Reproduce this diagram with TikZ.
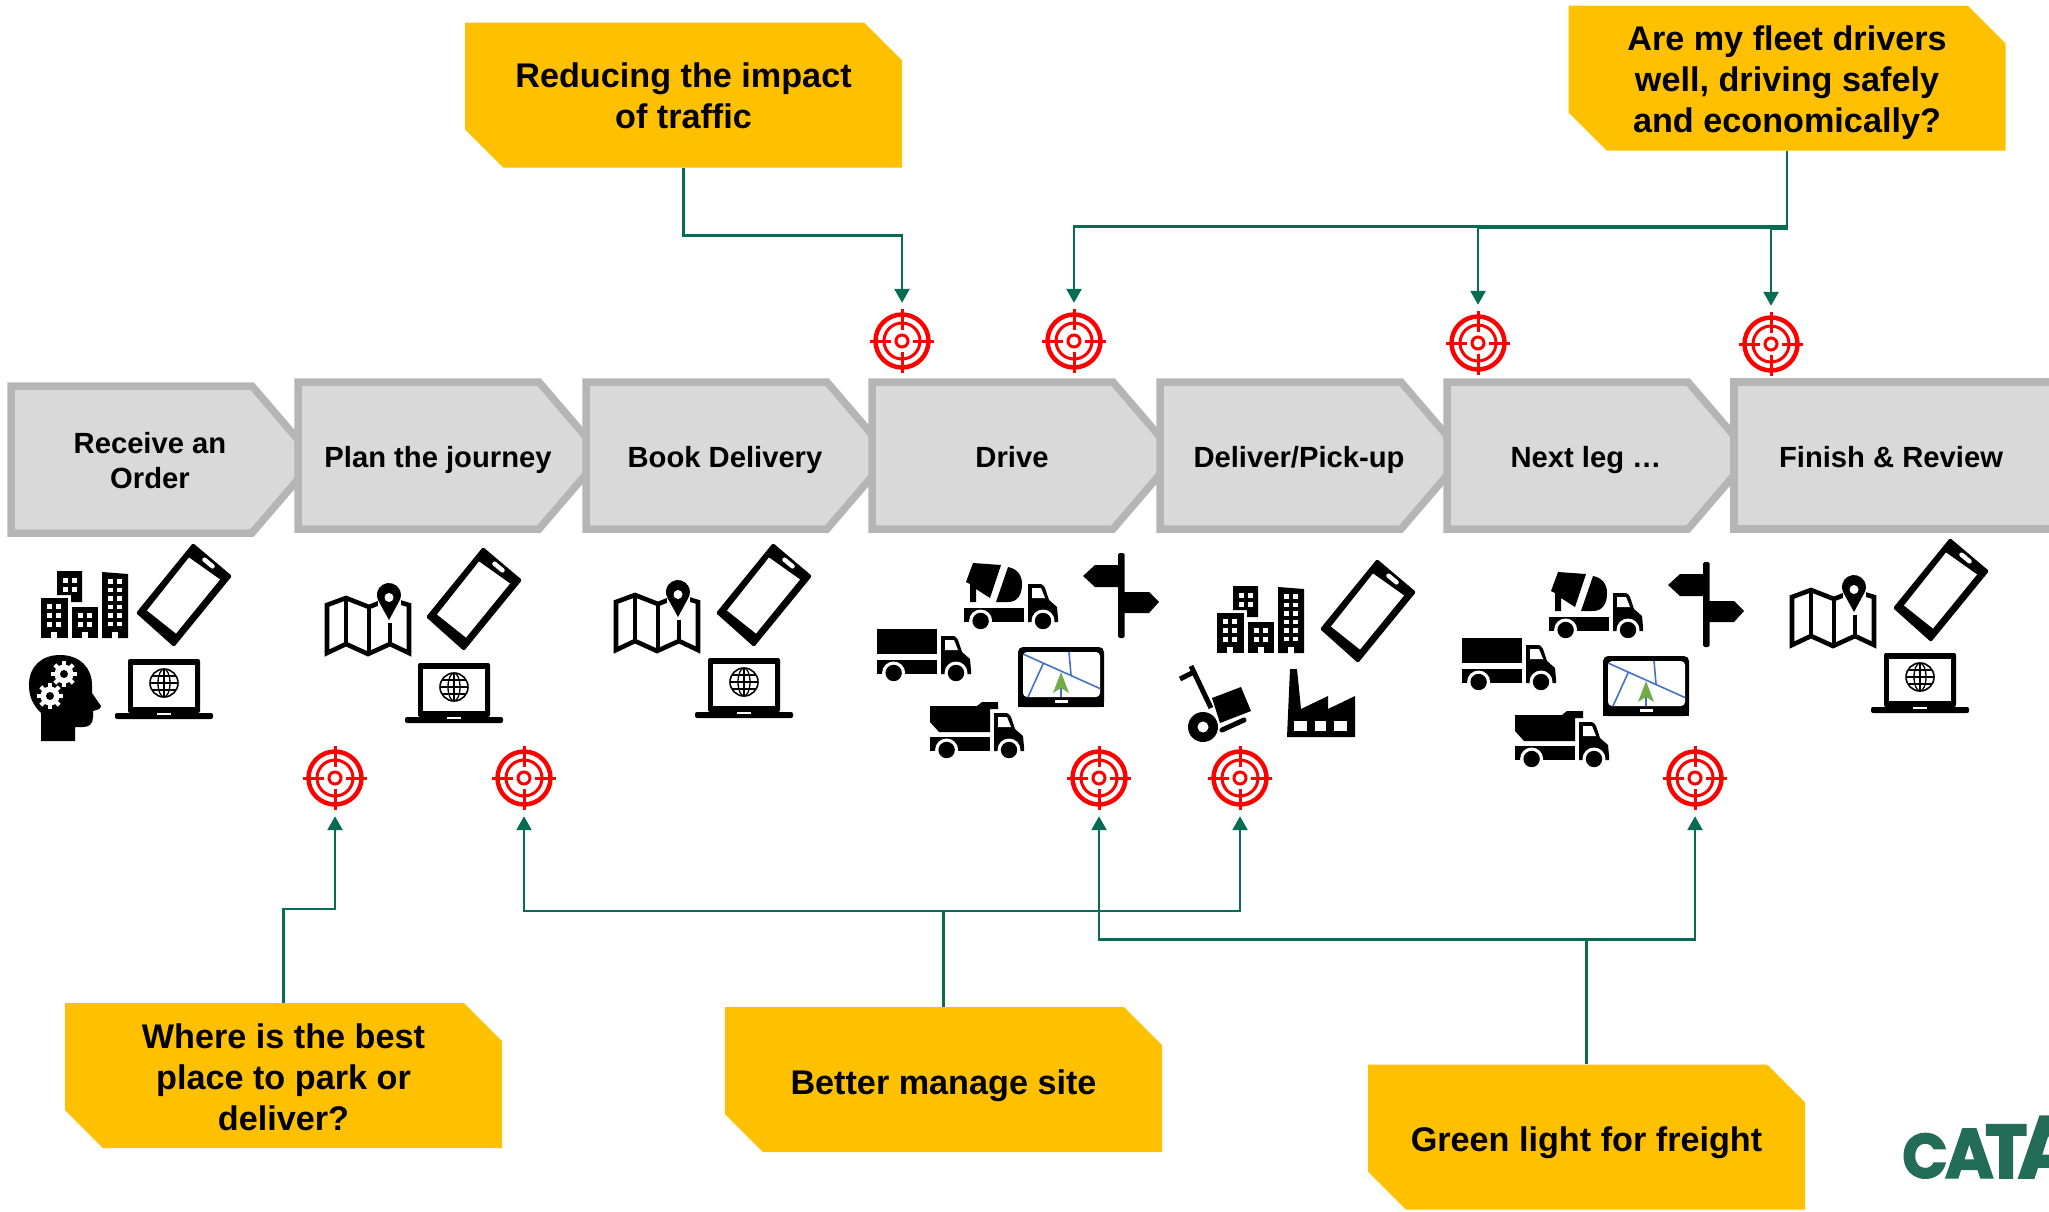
\documentclass[tikz,border=0pt]{standalone}
\usepackage{fontspec}
\setmainfont{Liberation Sans}
\newfontfamily\logofont[FakeBold=2,FakeStretch=0.95]{Poppins}
\usetikzlibrary{arrows.meta,calc}
\definecolor{chevfill}{HTML}{D9D9D9}
\definecolor{chevline}{HTML}{B5B5B5}
\definecolor{calloutc}{HTML}{FFC000}
\definecolor{connc}{HTML}{086C55}
\definecolor{logoc}{HTML}{236C55}
\definecolor{navblue}{HTML}{4472C4}
\definecolor{navgreen}{HTML}{70AD47}
\tikzset{
  chev/.style={draw=chevline,fill=chevfill,line width=7.5pt,miter limit=10},
  steplabel/.style={font=\fontsize{29.2}{35}\selectfont\bfseries,align=center,inner sep=0pt,text=black},
  stepone/.style={steplabel,text height=21.3pt,text depth=0pt},
  callout/.style={rectangle,inner sep=0pt,
    minimum width=437pt,minimum height=145pt,align=center,
    font=\fontsize{34.2}{41}\selectfont\bfseries},
  calloutone/.style={callout,text height=29.6pt,text depth=0pt},
  conn/.style={draw=connc,line width=2.6pt},
  arr/.style={conn,-{Triangle[length=14pt,width=15pt]}},
  tgt/.style={circle,minimum size=76pt,inner sep=0pt,draw=none},
  icon/.style={fill=black,draw=none},
  logotext/.style={text=logoc,inner sep=0pt,anchor=base west},
}
\newcommand{\calloutbox}[2]{% centre x, centre y
 \fill[calloutc] (#1-218.5,#2-72.5) -- (#1+180.5,#2-72.5) -- (#1+218.5,#2-34.5) -- (#1+218.5,#2+72.5) -- (#1-180.5,#2+72.5) -- (#1-218.5,#2+34.5) -- cycle;}
\newcommand{\targetmark}[1]{%
 \begin{scope}[shift={(#1)},red]
  \draw[line width=4.5pt] (0,0) circle (26.5pt);
  \draw[line width=3pt] (0,0) circle (18pt);
  \draw[line width=3pt] (0,0) circle (6pt);
  \foreach \a in {0,90,180,270}{\draw[line width=3pt] (\a:11pt) -- (\a:32pt);}
 \end{scope}}
\newcommand{\chevron}[3]{% left, top, bottom (outer)
 \draw[chev] (#1+4,#2+4) -- (#1+245,#2+4) -- (#1+308,{(#2+#3)/2}) -- (#1+245,#3-4) -- (#1+4,#3-4) -- cycle;}
\newcommand{\iconphone}[2]{%
 \begin{scope}[shift={(#1,#2)}]
  \fill[icon,rounded corners=1.5pt] (9,-52) -- (48,-19) -- (-10,52) -- (-48,18) -- cycle;
  \fill[white] (5,-37.5) -- (36,-15.5) -- (-8,38.5) -- (-37,15.5) -- cycle;
  \draw[white,line width=4.5pt,line cap=round] (20.5,-35.3) -- (28.5,-28.7);
 \end{scope}}
\newcommand{\iconlaptop}[2]{%
 \begin{scope}[shift={(#1,#2)}]
  \fill[icon,rounded corners=2pt] (-36,-31) rectangle (36,23);
  \fill[white] (-31,-25) rectangle (31,17);
  \fill[icon,rounded corners=2pt] (-49,23) rectangle (49,29);
  \fill[white] (-7,23) rectangle (7,24.5);
  \draw[line width=1.6pt] (0,-7) circle (14pt);
  \draw[line width=1.3pt] (0,-7) ellipse (6pt and 14pt);
  \draw[line width=1.3pt] (0,-21) -- (0,7) (-14,-7) -- (14,-7) (-12,-14) -- (12,-14) (-12,0) -- (12,0);
 \end{scope}}
\newcommand{\iconcity}[2]{%
 \begin{scope}[shift={(#1,#2)}]
  \fill[icon] (0,28) rectangle (27,68);
  \fill[icon] (16,1) -- (41,1) -- (41,32) -- (30,32) -- (30,25) -- (16,25) -- cycle;
  \fill[icon] (31,37) rectangle (57,68);
  \fill[icon] (61,2) -- (87,4) -- (87,68) -- (61,68) -- cycle;
  \foreach \y in {34,43,52}{\fill[white] (6,\y) rectangle ++(5,5); \fill[white] (15,\y) rectangle ++(5,5);}
  \foreach \y in {8,17}{\fill[white] (22,\y) rectangle ++(5,5); \fill[white] (31,\y) rectangle ++(5,5);}
  \foreach \y in {43,52}{\fill[white] (37,\y) rectangle ++(5,5); \fill[white] (46,\y) rectangle ++(5,5);}
  \foreach \y in {9,17.5,26,34.5,43,51.5}{\fill[white] (67,\y) rectangle ++(5,4.5); \fill[white] (76,\y) rectangle ++(5,4.5);}
  \fill[white] (10,62) rectangle (16,68.5);
  \fill[white] (41,62) rectangle (47,68.5);
  \fill[white] (71,62) rectangle (77,68.5);
 \end{scope}}
\newcommand{\iconmap}[2]{%
 \begin{scope}[shift={(#1,#2)}]
  \draw[line width=4.6pt,fill=white,line join=miter] (2,18) -- (21,11) -- (44,20) -- (64,12) -- (84,18) -- (84,66) -- (65,57) -- (43,67) -- (21,57) -- (2,66) -- cycle;
  \draw[line width=4.6pt] (21,11) -- (21,57) (44,20) -- (44,67) (65,36) -- (65,57);
  \fill[white] (53,-3) rectangle (76,36);
  \fill[icon] (64,33) -- (53.5,14) arc[start angle=210,end angle=-30,radius=12pt] -- cycle;
  \fill[white] (64,10.5) circle (4.5pt);
 \end{scope}}
\newcommand{\gearwhite}[2]{%
 \begin{scope}[shift={(#1,#2)}]
  \fill[white] (0,0) circle (9.5pt);
  \foreach \a in {0,45,...,315}{\draw[white,line width=4pt] (0,0) -- (\a:13pt);}
  \fill[icon] (0,0) circle (4pt);
 \end{scope}}
\newcommand{\iconhead}{%
 \fill[icon] (41,741) -- (41,713) .. controls (33,705) and (29,697) .. (29,685) .. controls (29,666) and (42,655) .. (60,655) .. controls (80,655) and (92,668) .. (92,685) -- (92,693) -- (101,706) .. controls (101,709) and (97,710) .. (93,711) -- (93,717) .. controls (93,724) and (89,727) .. (83,727) -- (75,727) -- (75,741) -- cycle;
 \gearwhite{64}{674}\gearwhite{50}{696}}
\newcommand{\cabchassis}[2]{%
 \begin{scope}[shift={(#1,#2)}]
  \fill[icon] (0,-14) rectangle (60,0);
  \fill[icon] (64,-38) -- (76,-38) .. controls (79,-38) and (81,-35) .. (82,-31) -- (85,-22) -- (93,-15) -- (94,-4) -- (94,0) -- (64,0) -- cycle;
  \fill[white] (68,-34) -- (77,-34) -- (81,-24) -- (68,-24) -- cycle;
  \fill[white] (16.6,-1) circle (11.5pt);
  \fill[white] (79,-1) circle (11.5pt);
  \fill[white] (-1,1) rectangle (96,2);
  \fill[icon] (16.6,-1) circle (8.2pt);
  \fill[icon] (79,-1) circle (8.2pt);
 \end{scope}}
\newcommand{\iconboxtruck}[2]{%
 \cabchassis{#1}{#2}
 \begin{scope}[shift={(#1,#2)}]\fill[icon] (0,-45) rectangle (60,-20);\end{scope}}
\newcommand{\iconcement}[2]{%
 \cabchassis{#1}{#2}
 \begin{scope}[shift={(#1,#2)}]
  \fill[icon] (9,-59) -- (37,-57) -- (26,-24) -- (12,-33) -- (12,-20) -- (6,-20) -- (6,-38) -- (2,-40) -- cycle;
  \fill[icon] (44,-55) .. controls (54,-53) and (58,-46) .. (58,-38) .. controls (58,-28) and (54,-20) .. (44,-20) -- (32,-20) -- cycle;
 \end{scope}}
\newcommand{\icondump}[2]{%
 \cabchassis{#1}{#2}
 \begin{scope}[shift={(#1,#2)}]
  \fill[icon] (0,-45) -- (47,-45) -- (52,-49) -- (68,-49) -- (68,-42) -- (60,-42) -- (60,-19) -- (9,-19) -- (0,-29) -- cycle;
 \end{scope}}
\newcommand{\iconsign}[2]{%
 \begin{scope}[shift={(#1,#2)}]
  \fill[icon,rounded corners=1.5pt] (1118,553) rectangle (1124.5,638);
  \fill[icon] (1083,576) -- (1095,565) -- (1120,565) -- (1120,587) -- (1095,587) -- cycle;
  \fill[icon] (1123,592) -- (1149,592) -- (1159,602) -- (1149,613) -- (1123,613) -- cycle;
 \end{scope}}
\newcommand{\iconnav}[2]{%
 \begin{scope}[shift={(#1,#2)}]
  \fill[icon,rounded corners=5pt] (1018,647) -- (1104,647) -- (1104,707) -- (1018,707) -- cycle;
  \fill[icon] (1018,680) rectangle (1104,707);
  \fill[white,rounded corners=4pt] (1023,652) rectangle (1100,697);
  \begin{scope}
   \clip[rounded corners=4pt] (1023,652) rectangle (1100,697);
   \draw[navblue,line width=1.6pt] (1023,654) -- (1101,689) (1069,652) -- (1071,675) (1043,664) -- (1028,697) (1061,688) -- (1061,697);
  \end{scope}
  \fill[navgreen] (1061,672) -- (1069,693) -- (1061,688) -- (1053,693) -- cycle;
  \fill[white] (1054.5,700) rectangle (1068,703);
 \end{scope}}
\newcommand{\icontrolley}{%
 \draw[line width=5pt] (1191,666) -- (1211,708);
 \draw[line width=5pt] (1180,679) -- (1192,673);
 \fill[icon] (1212,698) -- (1241,687) -- (1251,711) -- (1220,723) -- cycle;
 \fill[icon] (1203,727) circle (15pt);
 \fill[white] (1203,727) circle (5.5pt);
 \draw[line width=5pt,line cap=round] (1222,730) -- (1244,720);}
\newcommand{\iconfactory}{%
 \fill[icon] (1287,737) -- (1290,669) -- (1297,669) -- (1301,709) -- (1328,696) -- (1328,709) -- (1355,696) -- (1355,737) -- cycle;
 \fill[white] (1294,721) rectangle (1307,731);
 \fill[white] (1315,721) rectangle (1326,731);
 \fill[white] (1334,721) rectangle (1347,731);}
\begin{document}
\begin{tikzpicture}[x=1pt,y=-1pt]
\useasboundingbox (0,0) rectangle (2049,1211);
\clip (0,0) rectangle (2049,1211);
% chevrons
\chevron{7}{382}{537}
\chevron{294}{378}{533}
\chevron{582}{378}{533}
\chevron{868}{378}{533}
\chevron{1156}{378}{533}
\chevron{1443}{378}{533}
\draw[chev] (1734,382) -- (2080,382) -- (2080,529) -- (1734,529) -- cycle;
\node[steplabel] (s1) at (150,461) {Receive an\\Order};
\node[stepone] (s2) at (438,457) {Plan the journey};
\node[stepone] (s3) at (725,457) {Book Delivery};
\node[stepone] (s4) at (1012,457) {Drive};
\node[stepone] (s5) at (1299,457) {Deliver/Pick-up};
\node[stepone] (s6) at (1586,457) {Next leg …};
\node[stepone] (s7) at (1891,457) {Finish \& Review};
% callouts
\calloutbox{683.5}{95}
\calloutbox{1787}{78}
\calloutbox{283.5}{1075.5}
\calloutbox{943.5}{1079.5}
\calloutbox{1586.5}{1137}
\node[callout] (c1) at (683.5,95) {\rule{0pt}{27pt}Reducing the impact\\of traffic};
\node[callout] (c2) at (1787,78) {\rule{0pt}{35pt}Are my fleet drivers\\well, driving safely\\and economically?};
\node[callout] (c3) at (283.5,1075.5) {\rule{0pt}{28pt}Where is the best\\place to park or\\deliver?};
\node[calloutone] (c4) at (943.5,1079.5) {Better manage site};
\node[calloutone] (c5) at (1586.5,1137) {Green light for freight};
% targets
\node[tgt] (t1) at (902,341) {};
\node[tgt] (t2) at (1074,341) {};
\node[tgt] (t3) at (1478,343) {};
\node[tgt] (t4) at (1771,344) {};
\node[tgt] (b1) at (335,778) {};
\node[tgt] (b2) at (524,778) {};
\node[tgt] (b3) at (1099,778) {};
\node[tgt] (b4) at (1240,778) {};
\node[tgt] (b5) at (1695,778) {};
\foreach \n in {t1,t2,t3,t4,b1,b2,b3,b4,b5}{\targetmark{\n}}
% connectors
\draw[arr] (c1.south) -- ++(0,67.5) -| (t1.north);
\draw[arr] (c2.south) -- ++(0,76) -| (t2.north);
\draw[arr] (c2.south) -- ++(0,77) -| (t3.north);
\draw[arr] (c2.south) -- ++(0,78) -| (t4.north);
\draw[arr] (c3.north) -- ++(0,-94) -| (b1.south);
\draw[arr] (c4.north) -- ++(0,-96) -| (b2.south);
\draw[arr] (c4.north) -- ++(0,-96) -| (b4.south);
\draw[arr] (c5.north) -- ++(0,-125) -| (b3.south);
\draw[arr] (c5.north) -- ++(0,-125) -| (b5.south);
% icons
\iconphone{184}{595}\iconphone{474}{599}\iconphone{764}{595}\iconphone{1368}{611}\iconphone{1941}{590}
\iconlaptop{164}{690}\iconlaptop{454}{694}\iconlaptop{744}{689}\iconlaptop{1920}{684}
\iconcity{41}{570}\iconcity{1217}{585}
\iconmap{325}{587}\iconmap{614}{584}\iconmap{1790}{579}
\iconhead
\iconboxtruck{877}{674}\iconcement{964}{622}\icondump{930}{751}
\iconboxtruck{1462}{683}\iconcement{1549}{631}\icondump{1515}{760}
\iconsign{0}{0}\iconsign{585}{9}
\iconnav{0}{0}\iconnav{585}{9}
\icontrolley
\iconfactory
% logo
\node[logotext] (logo) at (1902,1178) {\logofont\bfseries{\fontsize{63}{63}\selectfont C}\kern-3pt{\fontsize{70}{70}\selectfont A}\kern-9pt{\fontsize{76}{76}\selectfont T}\kern-10pt{\fontsize{88}{88}\selectfont A}};
\end{tikzpicture}
\end{document}
